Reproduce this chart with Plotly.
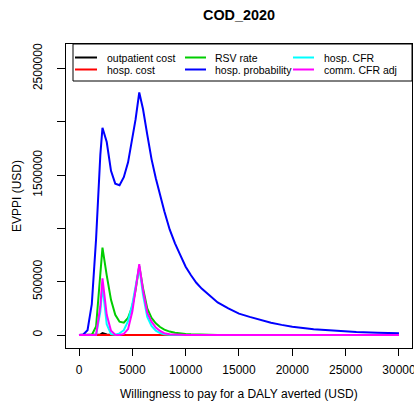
import plotly.graph_objects as go

# ---------------- data ----------------
wtp = [0, 400, 800, 1200, 1600, 2000, 2200, 2600, 3000, 3400,
       3800, 4200, 4600, 5000, 5300, 5650, 6000, 6400, 6800, 7200,
       7600, 8000, 8500, 9000, 9500, 10000, 10500, 11000, 11500, 12000,
       13000, 14000, 15000, 16000, 17000, 18000, 19000, 20000, 22000, 24000,
       26000, 28000, 30000]

outpatient_cost = [0, 0, 0, 0, 0, 5000, 18000, 5000, 1000, 0,
                   0, 0, 0, 0, 0, 1000, 0, 0, 0, 0,
                   0, 0, 0, 0, 0, 0, 0, 0, 0, 0,
                   0, 0, 0, 0, 0, 0, 0, 0, 0, 0,
                   0, 0, 0]

hosp_cost = [0, 0, 0, 0, 0, 1000, 2000, 1000, 0, 0,
             0, 0, 0, 1000, 3000, 7000, 3000, 1000, 0, 0,
             0, 0, 0, 0, 0, 0, 0, 0, 0, 0,
             0, 0, 0, 0, 0, 0, 0, 0, 0, 0,
             0, 0, 0]

rsv_rate = [0, 0, 0, 0, 80000, 565000, 819000, 560000, 330000, 190000,
            125000, 115000, 160000, 270000, 420000, 645000, 440000, 250000, 160000, 110000,
            75000, 50000, 32000, 22000, 14000, 9000, 6000, 4000, 3000, 2000,
            1000, 500, 0, 0, 0, 0, 0, 0, 0, 0,
            0, 0, 0]

hosp_probability = [0, 5000, 45000, 290000, 900000, 1690000, 1944000, 1810000, 1540000, 1420000,
                    1405000, 1480000, 1620000, 1840000, 2020000, 2275000, 2120000, 1880000, 1650000, 1470000,
                    1310000, 1160000, 990000, 860000, 750000, 640000, 560000, 490000, 435000, 390000,
                    305000, 250000, 200000, 170000, 140000, 115000, 95000, 78000, 55000, 39000,
                    28000, 21000, 17000]

hosp_cfr = [0, 0, 0, 0, 0, 220000, 460000, 100000, 8000, 3000,
            15000, 45000, 130000, 290000, 440000, 640000, 380000, 170000, 85000, 40000,
            18000, 7000, 2000, 0, 0, 0, 0, 0, 0, 0,
            0, 0, 0, 0, 0, 0, 0, 0, 0, 0,
            0, 0, 0]

comm_cfr_adj = [0, 0, 0, 0, 0, 270000, 531000, 190000, 40000, 3000,
                0, 10000, 55000, 220000, 420000, 665000, 420000, 210000, 125000, 70000,
                38000, 17000, 8000, 3000, 0, 0, 0, 0, 0, 0,
                0, 0, 0, 0, 0, 0, 0, 0, 0, 0,
                0, 0, 0]

series_names = ["outpatient cost", "hosp. cost", "RSV rate",
                "hosp. probability", "hosp. CFR", "comm. CFR adj"]
series_values = [outpatient_cost, hosp_cost, rsv_rate,
                 hosp_probability, hosp_cfr, comm_cfr_adj]
series_colors = ["#000000", "#FF0000", "#00CD00", "#0000FF", "#00FFFF", "#FF00FF"]

x_ticks = [0, 5000, 10000, 15000, 20000, 25000, 30000]
x_tick_labels = ["0", "5000", "10000", "15000", "20000", "25000", "30000"]
y_ticks = [0, 500000, 1000000, 1500000, 2000000, 2500000]
y_tick_labels = ["0", "500000", "", "1500000", "", "2500000"]

for v in series_values:
    assert len(v) == len(wtp)

# ---------------- layout helpers ----------------
W, H = 414, 410
L, R, T, B = 66, 2, 44, 62
PW, PH = W - L - R, H - T - B
FONT = "Liberation Sans, Arial, Helvetica, sans-serif"


def px(x):
    return (x - L) / PW


def py(y):
    return (H - B - y) / PH


fig = go.Figure()
for name, vals, col in zip(series_names, series_values, series_colors):
    fig.add_trace(go.Scatter(x=wtp, y=vals, mode="lines", name=name,
                             line=dict(color=col, width=2), showlegend=False,
                             hoverinfo="skip"))

# manual legend (three columns, two rows)
shapes = [dict(type="rect", xref="paper", yref="paper",
               x0=px(73), x1=1.0, y0=py(81), y1=1.0,
               line=dict(color="black", width=1), fillcolor="white", layer="below")]
annotations = []
col_line = [(75, 97, 106), (185, 206, 214), (293, 314, 323)]
row_y = [57.5, 69.5]
for i, (name, col) in enumerate(zip(series_names, series_colors)):
    c, r = divmod(i, 2)
    x0, x1, xt = col_line[c]
    yy = row_y[r]
    shapes.append(dict(type="line", xref="paper", yref="paper",
                       x0=px(x0), x1=px(x1), y0=py(yy), y1=py(yy),
                       line=dict(color=col, width=2)))
    annotations.append(dict(text=name, xref="paper", yref="paper",
                            x=px(xt - 1), y=py(yy), xanchor="left", yanchor="middle",
                            showarrow=False, font=dict(size=10.5, color="black", family=FONT)))

# titles
annotations.append(dict(text="<b>COD_2020</b>", xref="paper", yref="paper",
                        x=px(239), y=py(15), xanchor="center", yanchor="middle",
                        showarrow=False, font=dict(size=14.4, color="black", family=FONT)))
annotations.append(dict(text="Willingness to pay for a DALY averted (USD)", xref="paper", yref="paper",
                        x=px(239), y=py(394), xanchor="center", yanchor="middle",
                        showarrow=False, font=dict(size=12, color="black", family=FONT)))
annotations.append(dict(text="EVPPI (USD)", xref="paper", yref="paper",
                        x=px(17), y=py(196), xanchor="center", yanchor="middle", textangle=-90,
                        showarrow=False, font=dict(size=12, color="black", family=FONT)))

# axis ranges: x=0 at px 79, 5000 per 53.33 px; y=0 at px 335, 500000 per 53.3 px
xs = 5000 / 53.33
ys = 500000 / 53.3
x_range = [(L - 79) * xs, (W - R - 79) * xs]
y_range = [(335 - (H - B)) * ys, (335 - T) * ys]

fig.update_layout(
    width=W, height=H,
    margin=dict(l=L, r=R, t=T, b=B, pad=0),
    paper_bgcolor="white", plot_bgcolor="white",
    font=dict(family=FONT, size=12, color="black"),
    shapes=shapes, annotations=annotations,
    xaxis=dict(range=x_range, tickmode="array", tickvals=x_ticks, ticktext=x_tick_labels,
               showgrid=False, zeroline=False, showline=True, mirror=True,
               linecolor="black", linewidth=1, ticks="outside", ticklen=7, tickwidth=1,
               tickcolor="black", tickfont=dict(size=12, family=FONT), automargin=False,
               ticklabelstandoff=4, ticklabeloverflow="allow"),
    yaxis=dict(range=y_range, tickmode="array", tickvals=y_ticks, ticktext=y_tick_labels,
               showgrid=False, zeroline=False, showline=True, mirror=True,
               linecolor="black", linewidth=1, ticks="outside", ticklen=8, tickwidth=1,
               tickcolor="black", tickangle=-90, tickfont=dict(size=12, family=FONT),
               automargin=False, ticklabelstandoff=10, ticklabeloverflow="allow"),
)

fig.write_html("out.html", config={"displayModeBar": False, "staticPlot": True},
               post_script="document.body.style.margin='0';document.body.style.overflow='hidden';")
